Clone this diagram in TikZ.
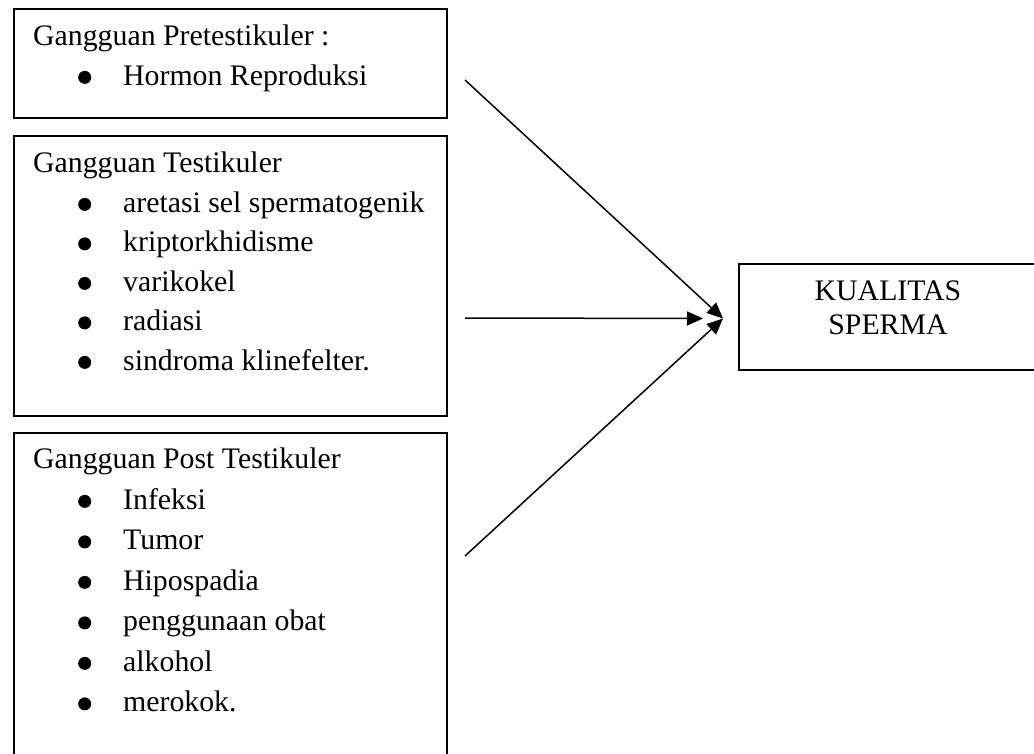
\documentclass[tikz,border=0pt]{standalone}
\usepackage{fontspec}
\setmainfont{Liberation Serif}
\usetikzlibrary{positioning,arrows.meta,calc}

\newcommand{\dotmark}{\raisebox{1.5pt}{\tikz\fill (0,0) circle (6.5pt);}}
\newcommand{\itm}[1]{\hspace*{45pt}\makebox[45pt][l]{\dotmark}#1}

\begin{document}
\begin{tikzpicture}[
  x=1pt, y=-1pt,
  box/.style={draw, line width=2pt, anchor=north west, inner sep=0pt},
  txt/.style={align=left, inner sep=0pt, font=\fontsize{29.8}{39.5}\selectfont},
  arr/.style={-{Triangle[length=16pt,width=14pt]}, line width=1.5pt}
]
\useasboundingbox (0,0) rectangle (1034,754);
% --- causes ---
\node[box, minimum width=433, minimum height=109] (pre) at (13,8) {};
\node[txt, below right=17pt and 20pt of pre.north west] (pretxt)
  {Gangguan Pretestikuler :\\ \itm{Hormon Reproduksi}};

\node[box, minimum width=433, minimum height=280] (testi) at (13,135) {};
\node[txt, below right=17pt and 20pt of testi.north west] (testitxt)
  {Gangguan Testikuler\\
   \itm{aretasi sel spermatogenik}\\
   \itm{kriptorkhidisme}\\
   \itm{varikokel}\\
   \itm{radiasi}\\
   \itm{sindroma klinefelter.}};

\node[box, minimum width=433, minimum height=340] (post) at (13,432) {};
\node[txt, font=\fontsize{29.8}{40.5}\selectfont,
      below right=16pt and 20pt of post.north west] (posttxt)
  {Gangguan Post Testikuler\\
   \itm{Infeksi}\\
   \itm{Tumor}\\
   \itm{Hipospadia}\\
   \itm{penggunaan obat}\\
   \itm{alkohol}\\
   \itm{merokok.}};

% --- result ---
\node[box, minimum width=298, minimum height=106] (kual) at (738,263) {};
\node[txt, align=center, font=\fontsize{29.8}{34}\selectfont,
      below=17.5pt of kual.north] (kualtxt) {KUALITAS\\SPERMA};

% --- arrows ---
\coordinate (hub) at ($(kual.west)+(-15,1.5)$);
\coordinate (hubm) at ($(hub)+(-20,0)$);
\coordinate (s1) at ($(pre.east)+(17,16.5)$);
\coordinate (s2) at ($(testi.east)+(17,42)$);
\coordinate (s3) at ($(post.east)+(17,-47)$);
\draw[arr] (s1) -- (hub);
\draw[arr] (s2) -- (hubm);
\draw[arr] (s3) -- (hub);
\end{tikzpicture}
\end{document}
